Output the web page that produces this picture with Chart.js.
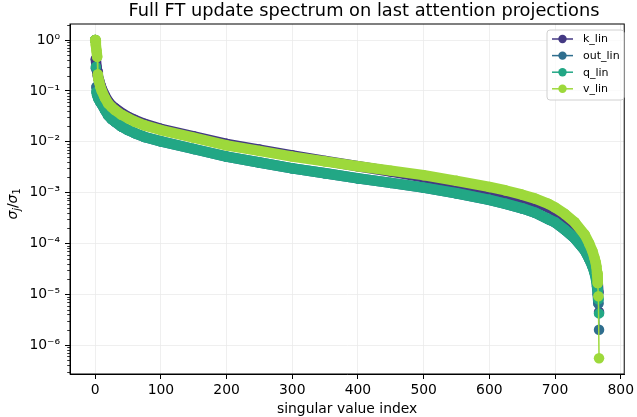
<!DOCTYPE html>
<html>
<head>
<meta charset="utf-8">
<script src="https://cdn.jsdelivr.net/npm/chart.js@4"></script>
<style>
  body { margin: 0; background: #fff; }
  #wrap { width: 637px; height: 417px; }
</style>
</head>
<body>
<div id="wrap"><canvas id="chart" width="637" height="417"></canvas></div>
<script>
// Values (singular value index -> sigma_j / sigma_1)
const kIdx = [0,1,2,3,4,5,6,8,10,15,20,25,30,40,50,60,75,100,150,200,250,300,350,400,450,500,550,600,625,650,670,690,700,715,730,745,752,757,760,763,765,766,767];
const kVals = [1.0,0.42,0.3,0.24,0.2,0.175,0.16,0.13,0.11,0.08,0.062,0.052,0.046,0.037,0.031,0.027,0.0225,0.018,0.0128,0.0091,0.007,0.0054,0.0042,0.0033,0.0026,0.002,0.0015,0.0011,0.00093,0.00077,0.00065,0.00051,0.00044,0.00032,0.00022,0.00013,0.000088,0.000062,0.000045,0.000028,0.000017,0.000011,0.0000045];

const outIdx = [0,1,2,3,5,8,10,15,20,25,30,40,50,60,75,100,150,200,250,300,350,400,450,500,550,600,625,650,670,690,700,715,730,745,752,757,760,763,764,765,766,767];
const outVals = [1.0,0.28,0.12,0.09,0.072,0.06,0.055,0.042,0.033,0.028,0.025,0.02,0.017,0.0148,0.0124,0.0102,0.0072,0.0051,0.0039,0.003,0.0024,0.0019,0.00155,0.00125,0.00097,0.00072,0.0006,0.00049,0.0004,0.0003,0.00026,0.000186,0.000126,0.000074,0.00005,0.000036,0.000028,0.00002,0.000014,0.00001,0.0000066,0.000002];

const qIdx = [0,1,2,3,5,8,10,15,20,25,30,40,50,60,75,100,150,200,250,300,350,400,450,500,550,600,625,650,670,690,700,715,730,745,752,757,760,763,765,766,767];
const qVals = [1.0,0.3,0.095,0.082,0.07,0.06,0.055,0.042,0.033,0.028,0.025,0.02,0.017,0.0148,0.0124,0.0102,0.0072,0.0051,0.0039,0.003,0.0024,0.0019,0.00155,0.00125,0.00097,0.00072,0.0006,0.00049,0.0004,0.0003,0.00026,0.000186,0.000126,0.000074,0.00005,0.0000355,0.000027,0.000018,0.000012,0.000008,0.0000042];

const vIdx = [0,1,2,3,4,5,6,8,10,15,20,25,30,40,50,60,75,100,150,200,250,300,350,400,450,500,550,600,625,650,670,690,700,715,730,745,752,757,760,762,763,764,765,766,767];
const vVals = [1.0,0.8,0.62,0.47,0.21,0.17,0.15,0.12,0.1,0.072,0.056,0.048,0.042,0.034,0.029,0.025,0.021,0.017,0.012,0.0085,0.0066,0.0051,0.0041,0.0033,0.0027,0.0022,0.0017,0.00129,0.0011,0.00091,0.00076,0.0006,0.00051,0.00038,0.00026,0.00015,0.0001,0.00007,0.000052,0.000042,0.000035,0.000026,0.0000166,0.0000091,0.00000055];

const seriesNames = ['k_lin', 'out_lin', 'q_lin', 'v_lin'];
const seriesColors = ['#443983', '#2f6e8e', '#22a785', '#9dd93b'];

const xTickValues = [0, 100, 200, 300, 400, 500, 600, 700, 800];
const yTickValues = [1e-6, 1e-5, 1e-4, 1e-3, 1e-2, 1e-1, 1];
const yTickLabels = ['10⁻⁶', '10⁻⁵', '10⁻⁴', '10⁻³', '10⁻²', '10⁻¹', '10⁰'];

const TITLE = 'Full FT update spectrum on last attention projections';
const FONT = 'DejaVu Sans';

const toPoints = (idx, vals) => idx.map((x, i) => ({ x: x, y: vals[i] }));

// dense markers merge into a band; neighbouring indices that jump far apart
// keep only the thin connecting line between separate markers
const segWidth = (ctx) => {
    const data = ctx.chart.data.datasets[ctx.datasetIndex].data;
    const step = data[ctx.p1DataIndex].x - data[ctx.p0DataIndex].x;
    const d = Math.hypot(ctx.p1.x - ctx.p0.x, ctx.p1.y - ctx.p0.y);
    return (step === 1 && d > 12) ? 1.5 : 10.5;
};

const makeSet = (name, color, pts, order) => ({
    label: name,
    data: pts,
    borderColor: color,
    backgroundColor: color,
    borderWidth: 10.5,
    borderCapStyle: 'round',
    borderJoinStyle: 'round',
    pointRadius: 5.25,
    pointBorderWidth: 0,
    pointBackgroundColor: color,
    tension: 0,
    fill: false,
    order: order,
    segment: { borderWidth: segWidth }
});

// top/right spines + minor log ticks
const framePlugin = {
    id: 'frame',
    afterDraw(chart) {
        const { ctx, chartArea: a, scales } = chart;
        ctx.save();
        ctx.strokeStyle = '#000';
        ctx.lineWidth = 1;
        ctx.strokeRect(a.left, a.top, a.right - a.left, a.bottom - a.top);
        const y = scales.y;
        ctx.lineWidth = 0.8;
        for (let k = -7; k <= 0; k++) {
            for (let m = 2; m <= 9; m++) {
                const v = m * Math.pow(10, k);
                if (v < y.min || v > y.max) continue;
                const py = Math.round(y.getPixelForValue(v)) + 0.5;
                ctx.beginPath();
                ctx.moveTo(a.left - 2.8, py);
                ctx.lineTo(a.left, py);
                ctx.stroke();
            }
        }
        ctx.restore();
    }
};

// title, axis titles and legend
const labelPlugin = {
    id: 'labels',
    afterDraw(chart) {
        const { ctx, chartArea: a } = chart;
        ctx.save();
        ctx.fillStyle = '#000';

        // title
        ctx.font = `17.8px "${FONT}"`;
        ctx.textAlign = 'center';
        ctx.textBaseline = 'alphabetic';
        ctx.fillText(TITLE, 364, 16);

        // x label
        ctx.font = `13.9px "${FONT}"`;
        ctx.fillText('singular value index', (a.left + a.right) / 2, 413);

        // y label: sigma_j / sigma_1
        const parts = [
            { t: 'σ', font: `italic 13.9px "${FONT}"`, dy: 0 },
            { t: 'j', font: `italic 9.7px "${FONT}"`, dy: 2.5 },
            { t: '/', font: `13.9px "${FONT}"`, dy: 0 },
            { t: 'σ', font: `italic 13.9px "${FONT}"`, dy: 0 },
            { t: '1', font: `9.7px "${FONT}"`, dy: 2.5 }
        ];
        let total = 0;
        parts.forEach(p => { ctx.font = p.font; p.w = ctx.measureText(p.t).width; total += p.w; });
        ctx.translate(17, 204);
        ctx.rotate(-Math.PI / 2);
        ctx.textAlign = 'left';
        let cx = -total / 2;
        parts.forEach(p => {
            ctx.font = p.font;
            ctx.fillText(p.t, cx, p.dy);
            cx += p.w;
        });
        ctx.setTransform(1, 0, 0, 1, 0, 0);

        // legend
        const bx = 547, by = 30, bw = 77, bh = 70, r = 3;
        ctx.beginPath();
        ctx.moveTo(bx + r, by);
        ctx.arcTo(bx + bw, by, bx + bw, by + bh, r);
        ctx.arcTo(bx + bw, by + bh, bx, by + bh, r);
        ctx.arcTo(bx, by + bh, bx, by, r);
        ctx.arcTo(bx, by, bx + bw, by, r);
        ctx.closePath();
        ctx.fillStyle = 'rgba(255,255,255,0.8)';
        ctx.fill();
        ctx.strokeStyle = '#d0d0d0';
        ctx.lineWidth = 1;
        ctx.stroke();

        ctx.font = `11px "${FONT}"`;
        ctx.textAlign = 'left';
        ctx.textBaseline = 'middle';
        seriesNames.forEach((name, i) => {
            const ly = 39 + i * 16.6;
            ctx.strokeStyle = seriesColors[i];
            ctx.lineWidth = 1.5;
            ctx.beginPath();
            ctx.moveTo(552, ly);
            ctx.lineTo(573, ly);
            ctx.stroke();
            ctx.fillStyle = seriesColors[i];
            ctx.beginPath();
            ctx.arc(562.5, ly, 4.2, 0, Math.PI * 2);
            ctx.fill();
            ctx.fillStyle = '#000';
            ctx.fillText(name, 583, ly + 0.5);
        });
        ctx.restore();
    }
};

const gridOpts = {
    color: '#ebebeb',
    lineWidth: 0.8,
    tickLength: 5,
    tickColor: '#000',
    tickWidth: 1
};

new Chart(document.getElementById('chart').getContext('2d'), {
    type: 'line',
    data: {
        datasets: [
            makeSet('k_lin', seriesColors[0], toPoints(kIdx, kVals), 3),
            makeSet('out_lin', seriesColors[1], toPoints(outIdx, outVals), 2),
            makeSet('q_lin', seriesColors[2], toPoints(qIdx, qVals), 1),
            makeSet('v_lin', seriesColors[3], toPoints(vIdx, vVals), 0)
        ]
    },
    options: {
        responsive: false,
        animation: false,
        events: [],
        layout: { padding: { left: 0, right: 5, top: 24, bottom: 0 } },
        plugins: {
            legend: { display: false },
            tooltip: { enabled: false },
            title: { display: false }
        },
        scales: {
            x: {
                type: 'linear',
                min: -38.35,
                max: 805.35,
                afterBuildTicks: (s) => { s.ticks = xTickValues.map(v => ({ value: v })); },
                afterFit: (s) => { s.height = 43; },
                ticks: {
                    color: '#000',
                    font: { family: FONT, size: 13.9 },
                    padding: 3,
                    maxRotation: 0,
                    autoSkip: false,
                    callback: (v) => String(v)
                },
                grid: gridOpts,
                border: { display: true, color: '#000', width: 1 }
            },
            y: {
                type: 'logarithmic',
                min: 2.7e-7,
                max: 2.07,
                afterBuildTicks: (s) => { s.ticks = yTickValues.map(v => ({ value: v })); },
                afterFit: (s) => { s.width = 70; },
                ticks: {
                    color: '#000',
                    font: { family: FONT, size: 13.9 },
                    padding: 5,
                    autoSkip: false,
                    callback: (v) => {
                        const i = yTickValues.findIndex(t => Math.abs(t - v) / t < 1e-6);
                        return i >= 0 ? yTickLabels[i] : '';
                    }
                },
                grid: gridOpts,
                border: { display: true, color: '#000', width: 1 }
            }
        }
    },
    plugins: [framePlugin, labelPlugin]
});
</script>
</body>
</html>
